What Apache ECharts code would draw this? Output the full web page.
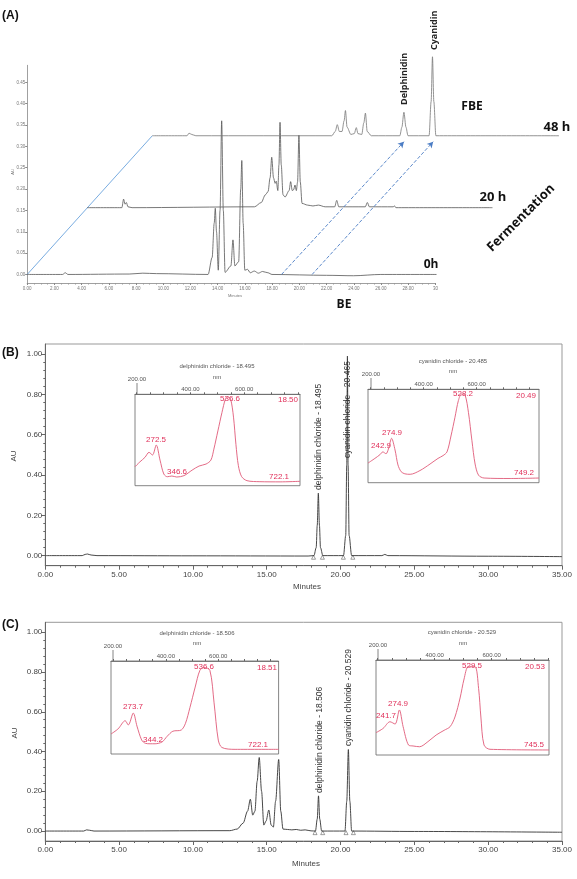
<!DOCTYPE html>
<html>
<head>
<meta charset="utf-8">
<script src="https://cdn.jsdelivr.net/npm/echarts@6/dist/echarts.min.js"></script>
<style>
  html, body { margin: 0; padding: 0; background: #fff; }
  #main { width: 577px; height: 879px; }
</style>
</head>
<body>
<div id="main"></div>
<script>
// ---- panel A : stacked chromatograms (minutes, AU) ----
const offset20h = [4.41, 0.1565];
const offset48h = [9.2, 0.325];
const trace0h = [[0,0],[2.6,0],[2.8,0.004],[3.0,0],[7.5,0.001],[8.5,0.003],[9.5,0.002],[13.3,0],[13.6,0.04],[13.75,0.12],[13.83,0.155],[13.92,0.1],[14.05,0.01],[14.18,0.15],[14.3,0.36],[14.42,0.15],[14.55,0.005],[14.98,0.02],[15.13,0.081],[15.27,0.02],[15.55,0.03],[15.7,0.2],[15.78,0.267],[15.88,0.12],[16.0,0.01],[16.2,0.012],[16.4,0.004],[16.7,0.008],[17.0,0.003],[17.3,0.007],[17.7,0.004],[18.0,0],[22,-0.002],[24,-0.003],[26,0],[30.1,0]];
const trace20h = [[0,0],[2.55,0],[2.68,0.02],[2.78,0.008],[2.88,0.012],[3.0,0.002],[3.3,0],[12.3,0.002],[12.8,0.012],[13.1,0.03],[13.3,0.0375],[13.45,0.07],[13.57,0.118],[13.7,0.07],[13.82,0.057],[13.9,0.062],[14.02,0.04],[14.1,0.1],[14.18,0.2],[14.27,0.1],[14.4,0.03],[14.55,0.025],[14.85,0.04],[14.96,0.061],[15.08,0.04],[15.18,0.042],[15.28,0.053],[15.38,0.04],[15.47,0.06],[15.57,0.17],[15.67,0.06],[15.8,0.01],[16.2,0.006],[16.6,0.004],[17.0,0.006],[17.5,0.002],[18.2,0.002],[18.35,0.017],[18.5,0.002],[20.45,0.002],[20.6,0.012],[20.75,0.002],[22.5,0.002],[22.6,0.004],[22.7,0],[29.8,0]];
const trace48h = [[0,0],[2.55,0],[2.7,0.006],[2.9,0.003],[3.2,0],[13.2,0],[13.45,0.01],[13.6,0.026],[13.75,0.01],[13.95,0.01],[14.1,0.035],[14.2,0.059],[14.32,0.02],[14.6,0.003],[14.85,0.005],[15.0,0.019],[15.12,0.005],[15.4,0.003],[15.55,0.03],[15.67,0.053],[15.8,0.01],[16.1,0],[18.2,0],[18.35,0.02],[18.5,0.055],[18.65,0.02],[18.8,0],[20.35,0],[20.5,0.08],[20.6,0.185],[20.7,0.08],[20.85,0],[29.9,0]];
const arrowDelph = [[18.7, 0], [27.7, 0.311]];
const arrowCyan = [[20.95, 0], [29.85, 0.311]];
const ticksA = [0, 0.05, 0.1, 0.15, 0.2, 0.25, 0.3, 0.35, 0.4, 0.45];

// ---- panels B and C : chromatograms (minutes, AU) ----
const traceB = [[0,0],[2.5,0],[2.7,0.006],[2.85,0.008],[3.1,0.003],[3.5,0],[10,-0.001],[17.8,-0.002],[18.2,0],[18.35,0.04],[18.42,0.15],[18.495,0.31],[18.57,0.15],[18.64,0.04],[18.8,0],[20.2,0],[20.35,0.1],[20.42,0.45],[20.465,0.99],[20.51,0.45],[20.58,0.1],[20.75,0],[22.8,0],[23.0,0.006],[23.2,0],[30,-0.003],[35,-0.005]];
const traceC = [[0,0],[2.6,0],[2.8,0.006],[3.0,0.004],[3.3,0],[12.5,0.002],[13.0,0.01],[13.4,0.04],[13.7,0.1],[13.89,0.16],[14.05,0.08],[14.2,0.1],[14.35,0.25],[14.49,0.37],[14.65,0.2],[14.8,0.03],[14.95,0.05],[15.14,0.106],[15.3,0.03],[15.45,0.02],[15.6,0.15],[15.81,0.36],[15.95,0.1],[16.1,0.01],[16.4,0.008],[16.7,0.006],[17.0,0.008],[17.3,0.004],[17.6,0.006],[18.0,0.001],[18.3,0],[18.42,0.06],[18.506,0.177],[18.59,0.06],[18.72,0],[20.3,0],[20.42,0.15],[20.529,0.41],[20.63,0.15],[20.75,0],[25,-0.002],[35,-0.006]];
const markersB = [18.17, 18.77, 20.19, 20.83];
const markersC = [18.27, 18.79, 20.37, 20.87];
const ticksBC = [0, 0.2, 0.4, 0.6, 0.8, 1.0];
const minorBC = [0,0.04,0.08,0.12,0.16,0.2,0.24,0.28,0.32,0.36,0.4,0.44,0.48,0.52,0.56,0.6,0.64,0.68,0.72,0.76,0.8,0.84,0.88,0.92,0.96,1.0];

// ---- UV spectra of the insets (nm, relative absorbance) ----
const specB1 = [[194,0.208],[212,0.26],[231,0.31],[246,0.365],[259,0.336],[273,0.445],[287,0.28],[301,0.128],[314,0.098],[331,0.106],[349,0.095],[376,0.11],[406,0.17],[432,0.215],[458,0.237],[476,0.28],[487,0.4],[502,0.6],[517,0.8],[530,0.95],[538,0.974],[549,0.95],[560,0.75],[569,0.45],[578,0.22],[590,0.1],[610,0.055],[658,0.044],[733,0.042],[807,0.048]];
const specB2 = [[190,0.21],[216,0.26],[235,0.3],[246,0.33],[258,0.31],[267,0.36],[279,0.475],[292,0.35],[303,0.19],[315,0.118],[329,0.095],[349,0.09],[386,0.13],[424,0.2],[454,0.26],[473,0.29],[488,0.33],[503,0.5],[518,0.7],[531,0.88],[543,0.95],[556,0.94],[569,0.75],[582,0.45],[594,0.2],[607,0.08],[628,0.05],[726,0.045],[835,0.05]];
const specC1 = [[191,0.215],[218,0.27],[245,0.358],[257,0.312],[276,0.44],[290,0.3],[308,0.15],[322,0.115],[340,0.11],[359,0.11],[386,0.13],[405,0.19],[427,0.245],[459,0.258],[475,0.33],[492,0.5],[512,0.72],[530,0.9],[546,0.93],[568,0.9],[584,0.55],[600,0.15],[614,0.07],[664,0.05],[830,0.05]];
const specC2 = [[194,0.235],[219,0.28],[243,0.35],[261,0.326],[276,0.474],[289,0.3],[308,0.105],[324,0.095],[347,0.087],[376,0.14],[405,0.21],[433,0.26],[454,0.298],[471,0.4],[489,0.6],[503,0.8],[518,0.93],[541,0.93],[554,0.7],[562,0.4],[573,0.105],[594,0.06],[801,0.053]];
const specTicks = [200,250,300,350,400,450,500,550,600,650,700,750,800];
const specLabels = [400, 600];

const chart = echarts.init(document.getElementById('main'));
const font = 'Liberation Sans';
const bold = 'Open Sans';

const shift = (arr, off) => arr.map(p => [p[0] + off[0], p[1] + off[1]]);

function bcYAxes(grid) {
    return [
        { gridIndex: grid, min: -0.05, max: 1.05, position: 'left',
          axisLine: { show: true, onZero: false, lineStyle: { color: '#666', width: 1 } },
          axisTick: { show: true, length: 4, customValues: ticksBC, lineStyle: { color: '#666' } },
          axisLabel: { customValues: ticksBC, formatter: v => v.toFixed(2), fontSize: 8, color: '#444', fontFamily: font, margin: 3 },
          splitLine: { show: false } },
        { gridIndex: grid, min: -0.05, max: 1.05, position: 'left',
          axisLine: { show: false },
          axisTick: { show: true, length: 2, customValues: minorBC, lineStyle: { color: '#666' } },
          axisLabel: { show: false }, splitLine: { show: false } }
    ];
}
function bcXAxis(grid) {
    return { gridIndex: grid, type: 'value', min: 0, max: 35, interval: 5,
        axisLine: { onZero: false, lineStyle: { color: '#666' } },
        axisTick: { length: 4, lineStyle: { color: '#666' } },
        minorTick: { show: true, splitNumber: 5, length: 2, lineStyle: { color: '#666' } },
        axisLabel: { formatter: v => v.toFixed(2), fontSize: 8, color: '#444', fontFamily: font, margin: 5 },
        splitLine: { show: false } };
}
function specXAxis(grid, min, max) {
    return { gridIndex: grid, type: 'value', position: 'top', min: min, max: max,
        axisLine: { onZero: false, lineStyle: { color: '#666', width: 0.8 } },
        axisTick: { length: 2, customValues: specTicks.filter(v => v >= min && v <= max), lineStyle: { color: '#666' } },
        axisLabel: { customValues: specLabels, formatter: v => v.toFixed(2), fontSize: 6, color: '#555', fontFamily: font, margin: 2 },
        splitLine: { show: false } };
}
function specYAxis(grid) {
    return { gridIndex: grid, type: 'value', min: 0, max: 1, show: false };
}

const trace = (x, y, data, color, width) => ({
    type: 'line', xAxisIndex: x, yAxisIndex: y, data: data, showSymbol: false,
    smooth: 0.3, smoothMonotone: 'x', lineStyle: { color: color, width: width }, silent: true
});
// inset i uses xAxis i and yAxis i + 2
const spectrum = (i, data) => ({
    type: 'line', xAxisIndex: i, yAxisIndex: i + 2, data: data, showSymbol: false,
    smooth: 0.3, lineStyle: { color: '#e05a78', width: 0.9 }, silent: true
});
const markers = (x, y, list) => ({
    type: 'scatter', xAxisIndex: x, yAxisIndex: y, data: list.map(t => [t, -0.008]),
    symbol: 'triangle', symbolSize: 4, silent: true,
    itemStyle: { color: 'rgba(0,0,0,0)', borderColor: '#555', borderWidth: 0.7 }
});

// text annotations: [text, x, y, size, color, family, weight, rotation, align]
const texts = [
    ['(A)', 2, 16, 12, '#111', font, 'bold', 0, 'left'],
    ['Delphinidin', 404, 105, 9, '#222', bold, 'bold', 90, 'left'],
    ['Cyanidin', 434, 50, 9, '#222', bold, 'bold', 90, 'left'],
    ['FBE', 472, 107, 12, '#111', bold, 'bold', 0, 'center'],
    ['48 h', 557, 127, 13, '#111', bold, 'bold', 0, 'center'],
    ['20 h', 493, 197, 13, '#111', bold, 'bold', 0, 'center'],
    ['Fermentation', 521, 218, 13, '#111', bold, 'bold', 45, 'center'],
    ['0h', 431, 265, 12, '#111', bold, 'bold', 0, 'center'],
    ['BE', 344, 305, 12, '#111', bold, 'bold', 0, 'center'],
    ['AU', 13, 172, 4, '#777', font, 'normal', 90, 'center'],
    ['Minutes', 235, 296, 4, '#777', font, 'normal', 0, 'center'],

    ['(B)', 2, 353, 12, '#111', font, 'bold', 0, 'left'],
    ['AU', 14, 456, 8, '#444', font, 'normal', 90, 'center'],
    ['Minutes', 307, 587, 8, '#444', font, 'normal', 0, 'center'],
    ['delphinidin chloride - 18.495', 318.5, 490, 8.5, '#333', font, 'normal', 90, 'left'],
    ['cyanidin chloride - 20.465', 348, 458, 8.5, '#333', font, 'normal', 90, 'left'],
    ['delphinidin chloride - 18.495', 217, 366, 6, '#555', font, 'normal', 0, 'center'],
    ['nm', 217, 377, 6, '#555', font, 'normal', 0, 'center'],
    ['200.00', 137, 379, 6, '#555', font, 'normal', 0, 'center'],
    ['272.5', 156, 440, 8, '#e0305a', font, 'normal', 0, 'center'],
    ['346.6', 177, 472, 8, '#e0305a', font, 'normal', 0, 'center'],
    ['536.6', 230, 399, 8, '#e0305a', font, 'normal', 0, 'center'],
    ['18.50', 288, 400, 8, '#e0305a', font, 'normal', 0, 'center'],
    ['722.1', 279, 477, 8, '#e0305a', font, 'normal', 0, 'center'],
    ['cyanidin chloride - 20.485', 453, 361, 6, '#555', font, 'normal', 0, 'center'],
    ['nm', 453, 371, 6, '#555', font, 'normal', 0, 'center'],
    ['200.00', 371, 374, 6, '#555', font, 'normal', 0, 'center'],
    ['528.2', 463, 394, 8, '#e0305a', font, 'normal', 0, 'center'],
    ['20.49', 526, 396, 8, '#e0305a', font, 'normal', 0, 'center'],
    ['274.9', 392, 433, 8, '#e0305a', font, 'normal', 0, 'center'],
    ['242.9', 381, 446, 8, '#e0305a', font, 'normal', 0, 'center'],
    ['749.2', 524, 473, 8, '#e0305a', font, 'normal', 0, 'center'],

    ['(C)', 2, 625, 12, '#111', font, 'bold', 0, 'left'],
    ['AU', 15, 733, 8, '#444', font, 'normal', 90, 'center'],
    ['Minutes', 306, 864, 8, '#444', font, 'normal', 0, 'center'],
    ['delphinidin chloride - 18.506', 319.5, 793, 8.5, '#333', font, 'normal', 90, 'left'],
    ['cyanidin chloride - 20.529', 349, 746, 8.5, '#333', font, 'normal', 90, 'left'],
    ['delphinidin chloride - 18.506', 197, 633, 6, '#555', font, 'normal', 0, 'center'],
    ['nm', 197, 643, 6, '#555', font, 'normal', 0, 'center'],
    ['200.00', 113, 646, 6, '#555', font, 'normal', 0, 'center'],
    ['536.6', 204, 667, 8, '#e0305a', font, 'normal', 0, 'center'],
    ['18.51', 267, 668, 8, '#e0305a', font, 'normal', 0, 'center'],
    ['273.7', 133, 707, 8, '#e0305a', font, 'normal', 0, 'center'],
    ['344.2', 153, 740, 8, '#e0305a', font, 'normal', 0, 'center'],
    ['722.1', 258, 745, 8, '#e0305a', font, 'normal', 0, 'center'],
    ['cyanidin chloride - 20.529', 462, 632, 6, '#555', font, 'normal', 0, 'center'],
    ['nm', 463, 643, 6, '#555', font, 'normal', 0, 'center'],
    ['200.00', 378, 645, 6, '#555', font, 'normal', 0, 'center'],
    ['529.5', 472, 666, 8, '#e0305a', font, 'normal', 0, 'center'],
    ['20.53', 535, 667, 8, '#e0305a', font, 'normal', 0, 'center'],
    ['274.9', 398, 704, 8, '#e0305a', font, 'normal', 0, 'center'],
    ['241.7', 386, 716, 8, '#e0305a', font, 'normal', 0, 'center'],
    ['745.5', 534, 745, 8, '#e0305a', font, 'normal', 0, 'center']
];
// long ticks joining the raised "200.00" labels to the inset frames
const leaders = [[137, 383, 394], [371, 378, 389], [113, 650, 661], [378, 649, 660]];

const graphic = texts.map(t => ({
    type: 'text', x: t[1], y: t[2], rotation: t[7] * Math.PI / 180, silent: true,
    style: { text: t[0], fontSize: t[3], fill: t[4], fontFamily: t[5], fontWeight: t[6],
             align: t[8], verticalAlign: 'middle' }
})).concat(leaders.map(l => ({
    type: 'line', silent: true, shape: { x1: l[0], y1: l[1], x2: l[0], y2: l[2] },
    style: { stroke: '#666', lineWidth: 0.8 }
})));

const option = {
    animation: false,
    backgroundColor: '#fff',
    grid: [
        { left: 27.2, right: 141.6, top: 65.3, bottom: 596 },
        { left: 27.2, right: 5.8, top: 39.7, bottom: 596 },
        { left: 45.3, right: 15, top: 344, bottom: 313.3, show: true, borderColor: '#999', borderWidth: 1 },
        { left: 45.3, right: 15, top: 622.3, bottom: 38, show: true, borderColor: '#999', borderWidth: 1 },
        { left: 135, right: 277, top: 394.3, bottom: 393.3, show: true, borderColor: '#666', borderWidth: 0.8 },
        { left: 368, right: 38, top: 389.3, bottom: 396.3, show: true, borderColor: '#666', borderWidth: 0.8 },
        { left: 111, right: 298.4, top: 661, bottom: 125, show: true, borderColor: '#666', borderWidth: 0.8 },
        { left: 376, right: 28, top: 660, bottom: 124, show: true, borderColor: '#666', borderWidth: 0.8 }
    ],
    xAxis: [
        { gridIndex: 0, type: 'value', min: 0, max: 30, interval: 2,
          axisLine: { onZero: false, lineStyle: { color: '#888', width: 0.8 } },
          axisTick: { length: 2, lineStyle: { color: '#888' } },
          minorTick: { show: true, splitNumber: 4, length: 1.5, lineStyle: { color: '#999' } },
          axisLabel: { formatter: v => v === 30 ? '30' : v.toFixed(2), fontSize: 4.5, color: '#777', fontFamily: font, margin: 3 },
          splitLine: { show: false } },
        { gridIndex: 1, type: 'value', min: 0, max: 40, show: false },
        bcXAxis(2),
        bcXAxis(3),
        specXAxis(4, 194, 807),
        specXAxis(5, 190, 835),
        specXAxis(6, 191, 830),
        specXAxis(7, 194, 801)
    ],
    yAxis: [
        { gridIndex: 0, type: 'value', min: -0.02, max: 0.49, position: 'left',
          axisLine: { show: true, onZero: false, lineStyle: { color: '#888', width: 0.8 } },
          axisTick: { show: true, length: 2, customValues: ticksA, lineStyle: { color: '#888' } },
          axisLabel: { customValues: ticksA, formatter: v => v.toFixed(2), fontSize: 4.5, color: '#777', fontFamily: font, margin: 2 },
          splitLine: { show: false } },
        { gridIndex: 1, type: 'value', min: -0.02, max: 0.55, show: false },
        ...bcYAxes(2),
        ...bcYAxes(3),
        specYAxis(4), specYAxis(5), specYAxis(6), specYAxis(7)
    ],
    series: [
        { type: 'line', xAxisIndex: 1, yAxisIndex: 1, data: [[0, 0], offset48h], showSymbol: false,
          lineStyle: { color: '#6aa3dc', width: 0.9 }, silent: true,
          markLine: { silent: true, symbol: ['none', 'arrow'], symbolSize: [5, 6],
              label: { show: false },
              lineStyle: { color: '#4a7cc4', width: 0.9, type: 'dashed' },
              data: [[{ coord: arrowDelph[0] }, { coord: arrowDelph[1] }],
                     [{ coord: arrowCyan[0] }, { coord: arrowCyan[1] }]] } },
        trace(1, 1, trace0h, '#555', 0.8),
        trace(1, 1, shift(trace20h, offset20h), '#555', 0.8),
        trace(1, 1, shift(trace48h, offset48h), '#777', 0.8),
        trace(2, 2, traceB, '#333', 0.9),
        trace(3, 4, traceC, '#333', 0.9),
        markers(2, 2, markersB),
        markers(3, 4, markersC),
        spectrum(4, specB1),
        spectrum(5, specB2),
        spectrum(6, specC1),
        spectrum(7, specC2)
    ],
    graphic: graphic
};
chart.setOption(option);
</script>
</body>
</html>
